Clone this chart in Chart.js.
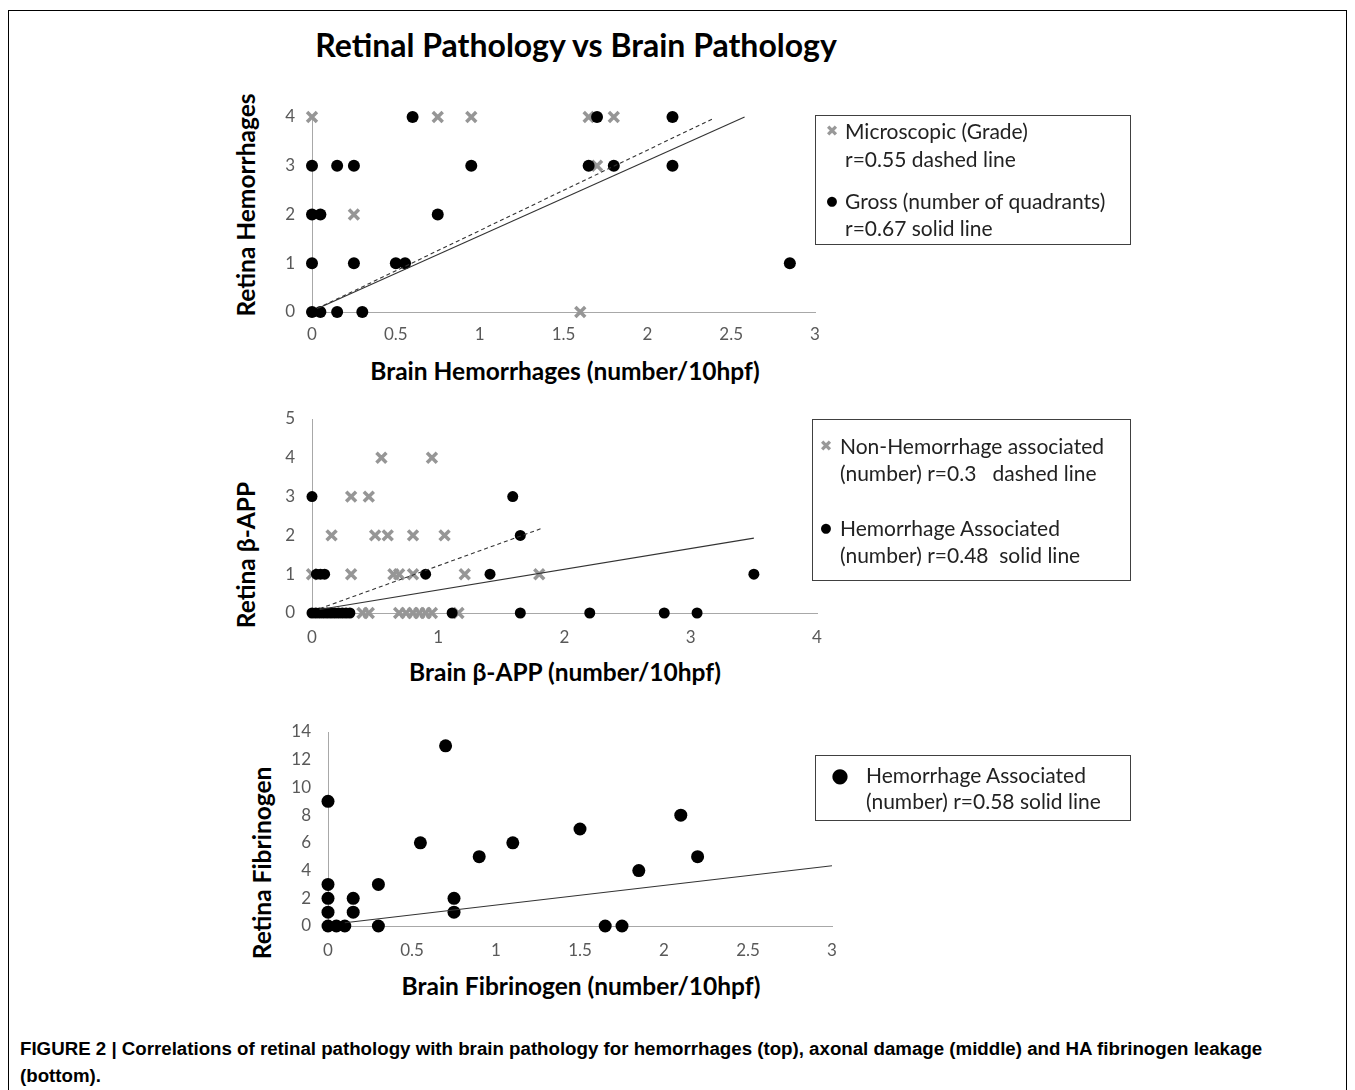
<!DOCTYPE html>
<html>
<head>
<meta charset="utf-8">
<script src="https://cdn.jsdelivr.net/npm/chart.js@4.4.0/dist/chart.umd.min.js"></script>
<style>
  body { margin: 0; background: #fff; }
  #page { position: relative; width: 1355px; height: 1090px; overflow: hidden; font-family: Lato, "Open Sans", sans-serif; }
  #frame { position: absolute; left: 8px; top: 10px; width: 1337px; height: 1200px; border: 1.5px solid #000; }
  #title { position: absolute; left: 576px; top: 44px; transform: translate(-50%, -50%); font-size: 32px; font-weight: bold; white-space: nowrap; }
  canvas { position: absolute; }
  .xt { position: absolute; transform: translate(-50%, -50%); font-size: 24.5px; font-weight: bold; white-space: nowrap; }
  .yt { position: absolute; transform: translate(-50%, -50%) rotate(-90deg); font-size: 24.5px; font-weight: bold; white-space: nowrap; }
  .lgbox { position: absolute; border: 1.5px solid #404040; box-sizing: border-box; }
  .lg { position: absolute; font-size: 21px; line-height: 24px; white-space: pre; color: #222; }
  .mk { position: absolute; font-family: "DejaVu Sans", sans-serif; line-height: 24px; transform: translate(-50%, 0); }
  #caption { position: absolute; left: 20px; top: 1035px; font-family: "Liberation Sans", Arial, sans-serif; font-weight: bold; font-size: 18.7px; line-height: 27px; white-space: nowrap; }
</style>
</head>
<body>
<div id="page">
  <div id="frame"></div>
  <div id="title">Retinal Pathology vs Brain Pathology</div>

  <canvas id="c1"></canvas>
  <canvas id="c2"></canvas>
  <canvas id="c3"></canvas>

  <div class="yt" style="left:245px;top:205px">Retina Hemorrhages</div>
  <div class="xt" style="left:565px;top:370px">Brain Hemorrhages (number/10hpf)</div>
  <div class="yt" style="left:245px;top:555px">Retina β-APP</div>
  <div class="xt" style="left:565px;top:671px">Brain β-APP (number/10hpf)</div>
  <div class="yt" style="left:261px;top:863px">Retina Fibrinogen</div>
  <div class="xt" style="left:581px;top:985px">Brain Fibrinogen (number/10hpf)</div>

  <div class="lgbox" style="left:815px;top:115px;width:316px;height:130px"></div>
  <div class="mk" style="left:832px;top:119px;font-size:15px;color:#999">✖</div>
  <div class="lg" style="left:845px;top:119px">Microscopic (Grade)</div>
  <div class="lg" style="left:845px;top:147px">r=0.55 dashed line</div>
  <div class="mk" style="left:832px;top:189px;font-size:13px">●</div>
  <div class="lg" style="left:845px;top:189px">Gross (number of quadrants)</div>
  <div class="lg" style="left:845px;top:216px">r=0.67 solid line</div>

  <div class="lgbox" style="left:812px;top:419px;width:319px;height:162px"></div>
  <div class="mk" style="left:826px;top:434px;font-size:15px;color:#999">✖</div>
  <div class="lg" style="left:840px;top:434px">Non-Hemorrhage associated</div>
  <div class="lg" style="left:840px;top:461px">(number) r=0.3   dashed line</div>
  <div class="mk" style="left:826px;top:516px;font-size:13px">●</div>
  <div class="lg" style="left:840px;top:516px">Hemorrhage Associated</div>
  <div class="lg" style="left:840px;top:543px">(number) r=0.48  solid line</div>

  <div class="lgbox" style="left:815px;top:755px;width:316px;height:66px"></div>
  <div class="mk" style="left:840px;top:763px;font-size:20px">●</div>
  <div class="lg" style="left:866px;top:763px">Hemorrhage Associated</div>
  <div class="lg" style="left:866px;top:789px">(number) r=0.58 solid line</div>

  <div id="caption">FIGURE 2 | Correlations of retinal pathology with brain pathology for hemorrhages (top), axonal damage (middle) and HA fibrinogen leakage<br>(bottom).</div>
</div>

<script>
// top panel: hemorrhages
const hemMicroX = [0, 0.75, 0.95, 1.65, 1.8, 1.7, 0.25, 1.6];
const hemMicroY = [4, 4, 4, 4, 4, 3, 2, 0];
const hemGrossX = [0.6, 1.7, 2.15, 0, 0.15, 0.25, 0.95, 1.65, 1.8, 2.15, 0, 0.05, 0.75, 0, 0.25, 0.5, 0.555, 2.85, 0, 0.05, 0.15, 0.3];
const hemGrossY = [4, 4, 4, 3, 3, 3, 3, 3, 3, 3, 2, 2, 2, 1, 1, 1, 1, 1, 0, 0, 0, 0];
const hemMicroFitX = [0.03, 2.4];
const hemMicroFitY = [0.07, 3.98];
const hemGrossFitX = [0.04, 2.58];
const hemGrossFitY = [0.08, 4.0];
const hemXTicks = [0, 0.5, 1, 1.5, 2, 2.5, 3];
const hemYTicks = [0, 1, 2, 3, 4];

// middle panel: beta-APP
const appNonX = [0.55, 0.95, 0.31, 0.45, 0.155, 0.5, 0.6, 0.8, 1.05, 0, 0.31, 0.645, 0.69, 0.8, 1.21, 1.8, 0.4, 0.45, 0.69, 0.745, 0.8, 0.85, 0.9, 0.95, 1.16];
const appNonY = [4, 4, 3, 3, 2, 2, 2, 2, 2, 1, 1, 1, 1, 1, 1, 1, 0, 0, 0, 0, 0, 0, 0, 0, 0];
const appHemX = [0, 1.59, 1.65, 0.035, 0.067, 0.1, 0.9, 1.41, 3.5, 0, 0.03, 0.06, 0.09, 0.12, 0.15, 0.18, 0.21, 0.24, 0.27, 0.3, 1.11, 1.65, 2.2, 2.79, 3.05];
const appHemY = [3, 3, 2, 1, 1, 1, 1, 1, 1, 0, 0, 0, 0, 0, 0, 0, 0, 0, 0, 0, 0, 0, 0, 0, 0];
const appNonFitX = [0.06, 1.81];
const appNonFitY = [0.11, 2.17];
const appHemFitX = [0.06, 3.5];
const appHemFitY = [0.09, 1.93];
const appXTicks = [0, 1, 2, 3, 4];
const appYTicks = [0, 1, 2, 3, 4, 5];

// bottom panel: fibrinogen
const fibX = [0, 0, 0, 0, 0, 0.05, 0.1, 0.15, 0.15, 0.3, 0.3, 0.55, 0.7, 0.75, 0.75, 0.9, 1.1, 1.5, 1.65, 1.75, 1.85, 2.1, 2.2];
const fibY = [9, 3, 2, 1, 0, 0, 0, 2, 1, 3, 0, 6, 13, 2, 1, 5, 6, 7, 0, 0, 4, 8, 5];
const fibFitX = [0.1, 3];
const fibFitY = [0.24, 4.35];
const fibXTicks = [0, 0.5, 1, 1.5, 2, 2.5, 3];
const fibYTicks = [0, 2, 4, 6, 8, 10, 12, 14];

const FONT = 'Lato, "Open Sans", sans-serif';
const GREY_X = 'rgb(150,150,150)';

function pts(xs, ys) {
    return xs.map((x, i) => ({ x: x, y: ys[i] }));
}

function crosses(xs, ys) {
    return {
        type: 'scatter', data: pts(xs, ys), pointStyle: 'crossRot', pointRadius: 7,
        borderColor: GREY_X, borderWidth: 3.5, clip: false, order: 2
    };
}

function dots(xs, ys, r) {
    return {
        type: 'scatter', data: pts(xs, ys), pointStyle: 'circle', pointRadius: r,
        backgroundColor: '#000', borderWidth: 0, clip: false, order: 1
    };
}

function fit(xs, ys, dashed) {
    return {
        type: 'line', data: pts(xs, ys), showLine: true, pointRadius: 0,
        borderColor: '#333', borderWidth: 1.1, borderDash: dashed ? [4, 3] : [],
        clip: false, order: 0
    };
}

// box = canvas placement, area = wanted plot area in page pixels
function makeChart(id, box, area, datasets, xTicks, yTicks, xPad) {
    const canvas = document.getElementById(id);
    canvas.width = box.w;
    canvas.height = box.h;
    canvas.style.left = box.left + 'px';
    canvas.style.top = box.top + 'px';

    const tickFont = { family: FONT, size: 17 };
    return new Chart(canvas.getContext('2d'), {
        type: 'scatter',
        data: { datasets: datasets },
        options: {
            responsive: false,
            animation: false,
            layout: {
                padding: {
                    left: 0,
                    top: area.t - box.top,
                    right: box.left + box.w - area.r,
                    bottom: 0
                }
            },
            plugins: { legend: { display: false }, tooltip: { enabled: false } },
            scales: {
                x: {
                    type: 'linear', min: xTicks[0], max: xTicks[xTicks.length - 1],
                    grid: { display: false, drawTicks: false },
                    border: { display: true, color: '#a8a8a8', width: 1 },
                    ticks: { color: '#595959', font: tickFont, padding: xPad, maxRotation: 0, autoSkip: false, callback: v => String(v) },
                    afterBuildTicks: s => { s.ticks = xTicks.map(v => ({ value: v })); },
                    afterFit: s => {
                        s.height = box.top + box.h - area.b;
                        s.paddingLeft = 0;
                        s.paddingRight = 0;
                    }
                },
                y: {
                    type: 'linear', min: yTicks[0], max: yTicks[yTicks.length - 1],
                    grid: { display: false, drawTicks: false },
                    border: { display: true, color: '#a8a8a8', width: 1 },
                    ticks: { color: '#595959', font: tickFont, padding: 17, autoSkip: false, callback: v => String(v) },
                    afterBuildTicks: s => { s.ticks = yTicks.map(v => ({ value: v })); },
                    afterFit: s => {
                        s.width = area.l - box.left;
                        s.paddingTop = 0;
                        s.paddingBottom = 0;
                    }
                }
            }
        }
    });
}

makeChart('c1', { left: 262, top: 95, w: 580, h: 260 }, { l: 312, t: 117, r: 815, b: 312 }, [
    fit(hemMicroFitX, hemMicroFitY, true),
    fit(hemGrossFitX, hemGrossFitY, false),
    dots(hemGrossX, hemGrossY, 6),
    crosses(hemMicroX, hemMicroY)
], hemXTicks, hemYTicks, 12);

makeChart('c2', { left: 262, top: 400, w: 580, h: 255 }, { l: 312, t: 419, r: 817, b: 613 }, [
    fit(appNonFitX, appNonFitY, true),
    fit(appHemFitX, appHemFitY, false),
    dots(appHemX, appHemY, 5.5),
    crosses(appNonX, appNonY)
], appXTicks, appYTicks, 14);

makeChart('c3', { left: 278, top: 715, w: 580, h: 255 }, { l: 328, t: 732, r: 832, b: 926 }, [
    fit(fibFitX, fibFitY, false),
    dots(fibX, fibY, 6.5)
], fibXTicks, fibYTicks, 14);
</script>
</body>
</html>
